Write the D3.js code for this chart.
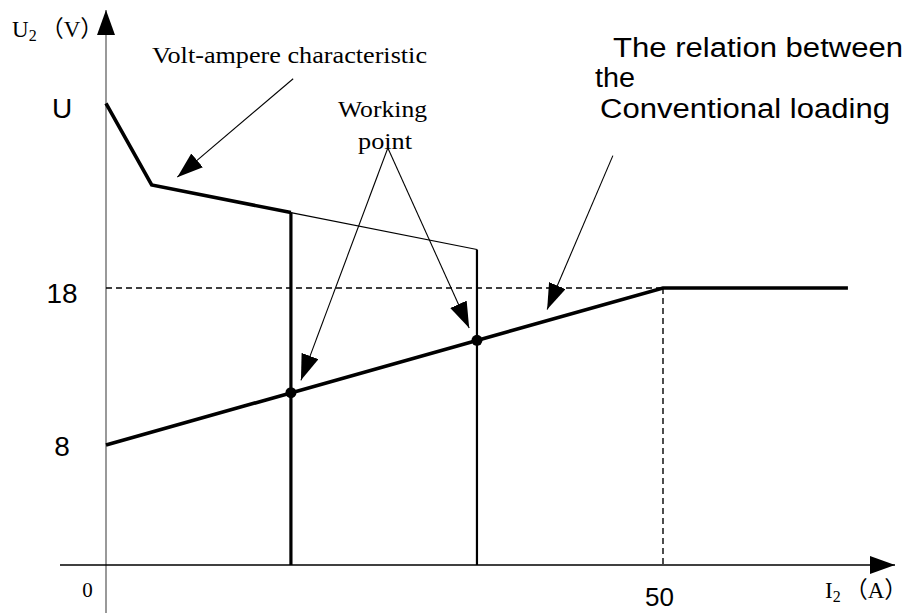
<!DOCTYPE html>
<html lang="en">
<head>
<meta charset="utf-8">
<title>Volt-ampere characteristic and load line</title>
<script src="https://d3js.org/d3.v7.min.js"></script>
<style>
  body { margin: 0; background: #fff; }
  svg { display: block; }
  .serif { font-family: "Liberation Serif", "Times New Roman", serif; fill: #000; }
  .sans { font-family: "Liberation Sans", Arial, sans-serif; fill: #000; }
  .cjk { font-family: "Noto Sans CJK SC", sans-serif; }
</style>
</head>
<body>
<script>
// ---- data (I2 in A, U2 in V) ----
var yTicks = [8, 18, 30];
var yTickLabels = ["8", "18", "U"];
var xTicks = [0, 50];
var xTickLabels = ["0", "50"];

// volt-ampere characteristic (thick part) and its vertical drop
var voltAmpere = [[0, 30], [4.1, 24.7], [16.6, 22.9]];
var dropA = [[16.6, 22.9], [16.6, 0]];
// second characteristic (thin) and its drop
var voltAmpere2 = [[16.6, 22.9], [33.3, 20.5]];
var dropB = [[33.3, 20.5], [33.3, 0]];
// conventional loading relation
var loadLine = [[0, 7.8], [50, 18], [66.6, 18]];
// guide lines
var guideH = [[0, 18], [50, 18]];
var guideV = [[50, 18], [50, 0]];
// working points
var workPoints = [[16.6, 11.2], [33.3, 14.6]];
// annotation arrows [x1, y1, x2, y2]
var arrows = [
  [16.8, 31.6, 6.4, 25.2],
  [25.3, 27.1, 17.5, 12.0],
  [25.3, 27.1, 32.6, 15.4],
  [45.5, 26.6, 39.6, 16.6]
];

var W = 908, H = 613;
var x = d3.scaleLinear().domain([0, 50]).range([106, 663]);
var y = d3.scaleLinear().domain([0, 18]).range([565, 288]);

var svg = d3.select("body").append("svg")
    .attr("width", W).attr("height", H);

var defs = svg.append("defs");
defs.append("marker")
    .attr("id", "head").attr("viewBox", "0 0 26 18")
    .attr("refX", 26).attr("refY", 9)
    .attr("markerWidth", 26).attr("markerHeight", 18)
    .attr("markerUnits", "userSpaceOnUse").attr("orient", "auto")
  .append("path").attr("d", "M0,0L26,9L0,18Z").attr("fill", "#000");
defs.append("marker")
    .attr("id", "axhead").attr("viewBox", "0 0 25 18")
    .attr("refX", 25).attr("refY", 9)
    .attr("markerWidth", 25).attr("markerHeight", 18)
    .attr("markerUnits", "userSpaceOnUse").attr("orient", "auto")
  .append("path").attr("d", "M0,0L25,9L0,18Z").attr("fill", "#000");

var line = d3.line().x(function(d) { return x(d[0]); }).y(function(d) { return y(d[1]); });

// axes
svg.append("line")
    .attr("x1", x(0)).attr("y1", H).attr("x2", x(0)).attr("y2", 10)
    .attr("stroke", "#777").attr("stroke-width", 1.5)
    .attr("marker-end", "url(#axhead)");
svg.append("line")
    .attr("x1", 60).attr("y1", y(0)).attr("x2", 895).attr("y2", y(0))
    .attr("stroke", "#000").attr("stroke-width", 1.5)
    .attr("marker-end", "url(#axhead)");

// dashed guides
[guideH, guideV].forEach(function(g) {
  svg.append("path").attr("d", line(g))
      .attr("fill", "none").attr("stroke", "#000").attr("stroke-width", 1.4)
      .attr("stroke-dasharray", "6,4");
});

// characteristic curves
svg.append("path").attr("d", line(voltAmpere))
    .attr("fill", "none").attr("stroke", "#000").attr("stroke-width", 3.6)
    .attr("stroke-linejoin", "miter");
svg.append("path").attr("d", line(dropA))
    .attr("fill", "none").attr("stroke", "#000").attr("stroke-width", 3.2);
svg.append("path").attr("d", line(voltAmpere2))
    .attr("fill", "none").attr("stroke", "#000").attr("stroke-width", 1.2);
svg.append("path").attr("d", line(dropB))
    .attr("fill", "none").attr("stroke", "#000").attr("stroke-width", 2.2);

// load relation
svg.append("path").attr("d", line(loadLine))
    .attr("fill", "none").attr("stroke", "#000").attr("stroke-width", 3.6);

svg.selectAll("circle.wp").data(workPoints).enter().append("circle")
    .attr("class", "wp")
    .attr("cx", function(d) { return x(d[0]); })
    .attr("cy", function(d) { return y(d[1]); })
    .attr("r", 5.5).attr("fill", "#000");

// annotation arrows
svg.selectAll("line.ann").data(arrows).enter().append("line")
    .attr("class", "ann")
    .attr("x1", function(d) { return x(d[0]); })
    .attr("y1", function(d) { return y(d[1]); })
    .attr("x2", function(d) { return x(d[2]); })
    .attr("y2", function(d) { return y(d[3]); })
    .attr("stroke", "#000").attr("stroke-width", 1.1)
    .attr("marker-end", "url(#head)");

// y tick labels
var yAxis = svg.append("g")
    .attr("transform", "translate(" + x(0) + ",0)")
    .call(d3.axisLeft(y).tickValues(yTicks).tickSize(0)
      .tickFormat(function(d, i) { return yTickLabels[i]; }));
yAxis.select(".domain").remove();
yAxis.selectAll("text")
    .attr("class", "sans").attr("font-family", null)
    .attr("x", -44).attr("dy", "0.36em").attr("y", 4)
    .attr("text-anchor", "middle").style("font-size", "28px");

// x tick labels
var xAxis = svg.append("g")
    .attr("transform", "translate(0," + y(0) + ")")
    .call(d3.axisBottom(x).tickValues(xTicks).tickSize(0)
      .tickFormat(function(d, i) { return xTickLabels[i]; }));
xAxis.select(".domain").remove();
xAxis.selectAll("text")
    .attr("font-family", null).attr("dy", null)
    .attr("class", function(d) { return d === 0 ? "serif" : "sans"; })
    .attr("x", function(d) { return d === 0 ? -19 : -4; })
    .attr("y", function(d) { return d === 0 ? 32 : 41; })
    .attr("text-anchor", "middle")
    .style("font-size", function(d) { return d === 0 ? "21px" : "26px"; });

// axis titles
var yt = svg.append("text").attr("class", "serif")
    .attr("x", 12).attr("y", 37).style("font-size", "23px");
yt.append("tspan").text("U");
yt.append("tspan").attr("dy", 4).style("font-size", "16px").text("2");
yt.append("tspan").attr("dy", -4).attr("dx", 4).attr("class", "cjk").text("（");
yt.append("tspan").text("V");
yt.append("tspan").attr("class", "cjk").text("）");

var xt = svg.append("text").attr("class", "serif")
    .attr("x", 825).attr("y", 598).style("font-size", "23px");
xt.append("tspan").text("I");
xt.append("tspan").attr("dy", 4).style("font-size", "16px").text("2");
xt.append("tspan").attr("dy", -4).attr("dx", 4).attr("class", "cjk").text("（");
xt.append("tspan").text("A");
xt.append("tspan").attr("class", "cjk").text("）");

// annotation labels
var labels = [
  {t: "Volt-ampere characteristic", x: 152, y: 63, w: 275, cls: "serif", fs: 24},
  {t: "Working", x: 338, y: 117, w: 89, cls: "serif", fs: 24},
  {t: "point", x: 358, y: 149, w: 54, cls: "serif", fs: 24},
  {t: "The relation between", x: 613, y: 57, w: 290, cls: "sans", fs: 27},
  {t: "the", x: 595, y: 87, w: 40, cls: "sans", fs: 27},
  {t: "Conventional loading", x: 600, y: 118, w: 290, cls: "sans", fs: 27}
];
svg.selectAll("text.lab").data(labels).enter().append("text")
    .attr("class", function(d) { return "lab " + d.cls; })
    .attr("x", function(d) { return d.x; })
    .attr("y", function(d) { return d.y; })
    .attr("textLength", function(d) { return d.w; })
    .attr("lengthAdjust", "spacingAndGlyphs")
    .style("font-size", function(d) { return d.fs + "px"; })
    .text(function(d) { return d.t; });
</script>
</body>
</html>
